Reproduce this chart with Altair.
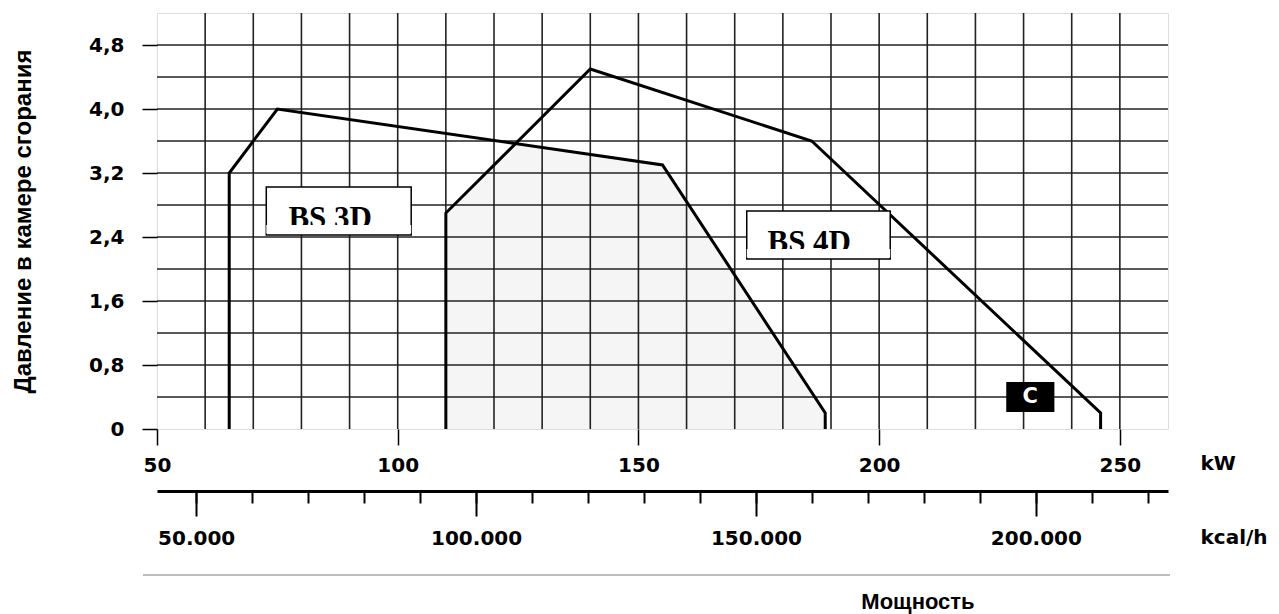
import altair as alt
import pandas as pd

# ---------------- data ----------------
kw_grid = [60, 70, 80, 90, 100, 110, 120, 130, 140, 150, 160, 170, 180, 190, 200, 210, 220, 230, 240, 250]
p_grid = [0.4, 0.8, 1.2, 1.6, 2.0, 2.4, 2.8, 3.2, 3.6, 4.0, 4.4, 4.8]
kw_ticks = [50, 100, 150, 200, 250]
p_ticks = [0, 0.8, 1.6, 2.4, 3.2, 4.0, 4.8]
kcal_minor = [50000, 60000, 70000, 80000, 90000, 100000, 110000, 120000, 130000, 140000,
              150000, 160000, 170000, 180000, 190000, 200000, 210000, 220000]
kcal_major = [50000, 100000, 150000, 200000]

bs3d_kw = [65, 65, 75, 155, 188.8, 188.8]
bs3d_p = [0, 3.2, 4.0, 3.3, 0.2, 0]
bs4d_kw = [110, 110, 140, 186, 246, 246]
bs4d_p = [0, 2.7, 4.5, 3.6, 0.2, 0]
overlap_kw = [110, 124.45, 155, 188.8]
overlap_p = [2.7, 3.567, 3.3, 0.2]

label_names = ["BS 3D", "BS 4D"]
label_x1 = [72.7, 172.5]
label_x2 = [102.8, 202.3]
label_y1 = [3.025, 2.725]
label_y2 = [2.425, 2.125]
label_tx = [77.3, 176.8]
label_ty = [2.5125, 2.2125]
cover_y1 = [2.55, 2.25]
cover_y2 = [2.444, 2.144]

c_text = ["C"]
c_x1, c_x2, c_y1, c_y2 = [226.4], [236.4], [0.2125], [0.5875]
c_tx, c_ty = [231.4], [0.40]

# ---------------- geometry ----------------
W, H = 1011, 416
KW_DOM = [50, 260]
P_DOM = [0, 5.2]
KCAL_DOM = [50 * 860, 260 * 860]

xs = alt.Scale(domain=KW_DOM, nice=False, zero=False)
ys = alt.Scale(domain=P_DOM, nice=False, zero=False)

BOLD = "DejaVu Sans"
TITLEF = "Liberation Sans"

x_axis = alt.Axis(values=kw_ticks, format="d", tickSize=16, tickWidth=1.5, tickColor="black",
                  labelFont=BOLD, labelFontWeight="bold", labelFontSize=20, labelColor="black",
                  labelPadding=10, labelFlush=False, domain=False, grid=False,
                  title="kW", titleX=1043, titleY=34, titleAlign="left", titleBaseline="middle",
                  titleFont=BOLD, titleFontWeight="bold", titleFontSize=20, titleColor="black")
y_axis = alt.Axis(values=p_ticks, tickSize=15, tickWidth=1.5, tickColor="black",
                  labelExpr="datum.value == 0 ? '0' : replace(format(datum.value, '.1f'), '.', ',')",
                  labelFont=BOLD, labelFontWeight="bold", labelFontSize=20, labelColor="black",
                  labelPadding=18, labelFlush=False, domain=False, grid=False,
                  title="Давление в камере сгорания", titleX=-134, titleY=208, titleAngle=270,
                  titleAlign="center", titleBaseline="middle",
                  titleFont=TITLEF, titleFontWeight="bold", titleFontSize=24, titleColor="black")


def X(f):
    return alt.X(f, scale=xs, axis=x_axis)


def Y(f):
    return alt.Y(f, scale=ys, axis=y_axis)


df_vgrid = pd.DataFrame({"kw": kw_grid})
df_hgrid = pd.DataFrame({"p": p_grid})
rows = []
for name, xv, yv in [("BS 3D", bs3d_kw, bs3d_p), ("BS 4D", bs4d_kw, bs4d_p)]:
    for i, (a, b) in enumerate(zip(xv, yv)):
        rows.append({"series": name, "i": i, "kw": a, "p": b})
df_lines = pd.DataFrame(rows)
df_overlap = pd.DataFrame({"kw": overlap_kw, "p": overlap_p})
df_labels = pd.DataFrame({"name": label_names, "x1": label_x1, "x2": label_x2, "y1": label_y1,
                          "y2": label_y2, "tx": label_tx, "ty": label_ty,
                          "cy1": cover_y1, "cy2": cover_y2})
df_c = pd.DataFrame({"t": c_text, "x1": c_x1, "x2": c_x2, "y1": c_y1, "y2": c_y2, "tx": c_tx, "ty": c_ty})

overlap = alt.Chart(df_overlap).mark_area(color="#f5f5f5").encode(x=X("kw:Q"), y=Y("p:Q"))
vgrid = alt.Chart(df_vgrid).mark_rule(color="#222222", strokeWidth=1.6).encode(x=X("kw:Q"))
hgrid = alt.Chart(df_hgrid).mark_rule(color="#222222", strokeWidth=1.6).encode(y=Y("p:Q"))
lines = alt.Chart(df_lines).mark_line(color="black", strokeWidth=3).encode(
    x=X("kw:Q"), y=Y("p:Q"), detail="series:N", order="i:Q")
boxes = alt.Chart(df_labels).mark_rect(fill="white", stroke="black", strokeWidth=1.5).encode(
    x=X("x1:Q"), x2="x2:Q", y=Y("y1:Q"), y2="y2:Q")
texts = alt.Chart(df_labels).mark_text(font="Liberation Serif", fontWeight="bold", fontSize=31,
                                       align="left", baseline="alphabetic", color="black").encode(
    x=X("tx:Q"), y=Y("ty:Q"), text="name:N")
covers = alt.Chart(df_labels).mark_rect(fill="white").encode(
    x=X("x1:Q"), x2="x2:Q", y=Y("cy1:Q"), y2="cy2:Q")
cbox = alt.Chart(df_c).mark_rect(fill="black").encode(
    x=X("x1:Q"), x2="x2:Q", y=Y("y1:Q"), y2="y2:Q")
ctext = alt.Chart(df_c).mark_text(font=BOLD, fontWeight="bold", fontSize=21, color="white",
                                  align="center", baseline="middle").encode(
    x=X("tx:Q"), y=Y("ty:Q"), text="t:N")
sep = alt.Chart(df_c).mark_rule(color="#bdbdbd", strokeWidth=2).encode(
    x=alt.value(-14), x2=alt.value(1013), y=alt.value(562))
title_b = alt.Chart(df_c).mark_text(text="Мощность", font=TITLEF, fontWeight="bold", fontSize=22,
                                    color="black", align="center", baseline="middle").encode(
    x=alt.value(761), y=alt.value(589))

main = alt.layer(overlap, vgrid, hgrid, lines, boxes, texts, covers, cbox, ctext, sep, title_b)

kscale = alt.Scale(domain=KCAL_DOM, nice=False, zero=False)
kcal_min = alt.Chart(pd.DataFrame({"kcal": kcal_minor})).mark_point(opacity=0).encode(
    x=alt.X("kcal:Q", scale=kscale,
            axis=alt.Axis(orient="bottom", offset=62, values=kcal_minor, labels=False,
                          tickSize=12, tickWidth=2, tickColor="black",
                          domain=True, domainColor="black", domainWidth=3, grid=False,
                          title="kcal/h", titleX=1043, titleY=46, titleAlign="left",
                          titleBaseline="middle", titleFont=BOLD, titleFontWeight="bold",
                          titleFontSize=20, titleColor="black")),
    y=alt.value(0))
kcal_maj = alt.Chart(pd.DataFrame({"kcal2": kcal_major})).mark_point(opacity=0).encode(
    x=alt.X("kcal2:Q", scale=kscale,
            axis=alt.Axis(orient="bottom", offset=62, values=kcal_major,
                          labelExpr="replace(format(datum.value, ',d'), ',', '.')",
                          tickSize=25, tickWidth=2, tickColor="black", domain=False, grid=False,
                          labelFont=BOLD, labelFontWeight="bold", labelFontSize=20,
                          labelColor="black", labelPadding=12, labelFlush=False, title="")),
    y=alt.value(0))

chart = alt.layer(main, kcal_min, kcal_maj).resolve_scale(x="independent").properties(
    width=W, height=H,
    autosize=alt.AutoSizeParams(type="none"),
    padding={"left": 149, "top": 5, "right": 103, "bottom": 185},
).configure_view(stroke="black", strokeWidth=2).configure(background="white")

chart.save("out.html", embed_options={"renderer": "svg", "actions": False})
